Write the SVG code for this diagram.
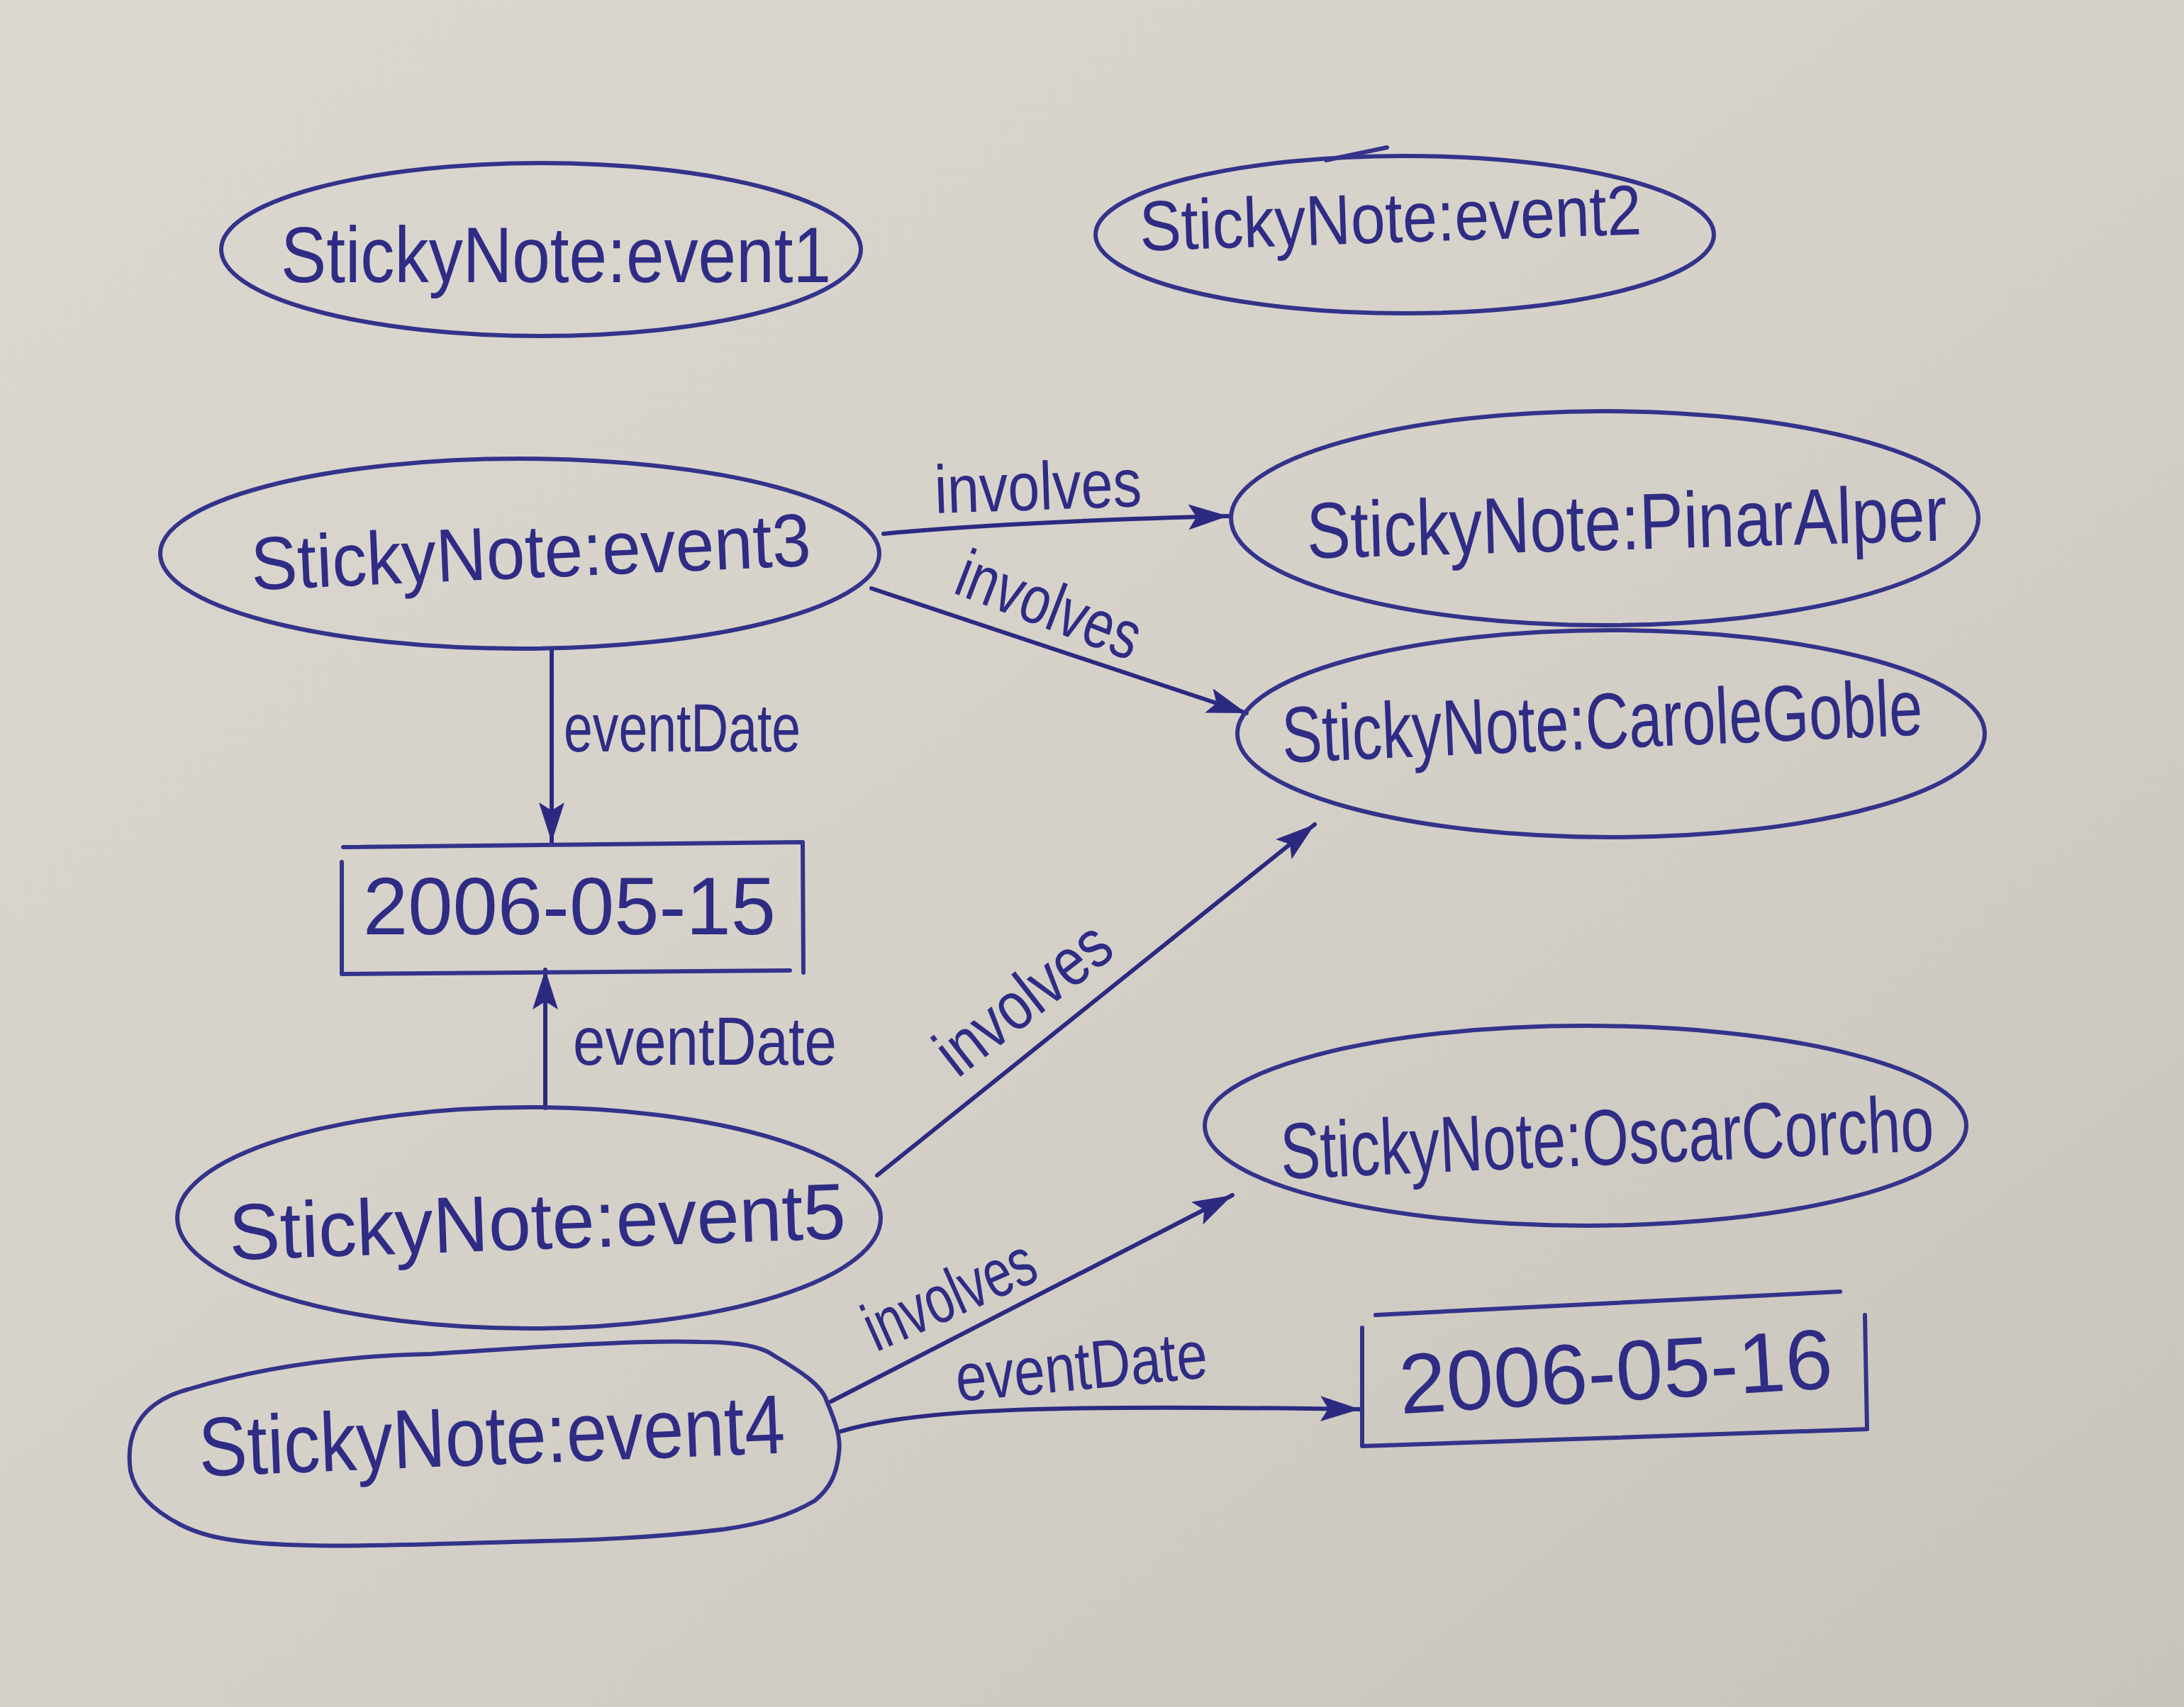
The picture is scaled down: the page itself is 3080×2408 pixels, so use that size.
<svg xmlns="http://www.w3.org/2000/svg" width="3080" height="2408" viewBox="0 0 3080 2408">
<defs>
<linearGradient id="paper" x1="0" y1="0" x2="1" y2="1">
<stop offset="0" stop-color="#dcd8d0"/>
<stop offset="0.5" stop-color="#d5d1c9"/>
<stop offset="1" stop-color="#c8c4bc"/>
</linearGradient>
<marker id="ah" viewBox="0 0 10 10" refX="10" refY="5" markerWidth="56" markerHeight="36" markerUnits="userSpaceOnUse" orient="auto" preserveAspectRatio="none">
<path d="M0,0 L10,5 L0,10 L2,5 z" fill="#2c2a80"/>
</marker>
<style>
.shape{fill:none;stroke:#34338a;stroke-width:6;stroke-linecap:round;stroke-linejoin:round}
.edge{fill:none;stroke:#2c2a80;stroke-width:6;stroke-linecap:round;marker-end:url(#ah)}
.t{font-family:"Liberation Sans","Noto Sans",sans-serif;fill:#2e2c84;text-anchor:middle}
.n{font-size:112px}
.l{font-size:96px}
.d{font-size:115px}
</style>
</defs>
<rect x="0" y="0" width="3080" height="2408" fill="url(#paper)"/>

<g id="connectors">
<path id="e3-pinar" class="edge" d="M1246,753 Q1420,736 1732,728"/>
<path id="e3-carole" class="edge" d="M1229,830 L1758,1006"/>
<path id="e3-date15" class="edge" d="M778,918 L778,1188"/>
<path id="e5-date15" class="edge" d="M769,1563 L769,1368"/>
<path id="e5-carole" class="edge" d="M1237,1658 L1854,1163"/>
<path id="e4-oscar" class="edge" d="M1172,1977 L1738,1686"/>
<path id="e4-date16" class="edge" d="M1183,2020 C1300,1985 1500,1982 1918,1988"/>
<text class="t l" x="1465" y="719" textLength="292" lengthAdjust="spacingAndGlyphs" transform="rotate(-2 1465 719)">involves</text>
<text class="t l" x="1468" y="884" textLength="270" lengthAdjust="spacingAndGlyphs" transform="rotate(21 1468 884)">involves</text>
<text class="t l" x="962" y="1060" textLength="334" lengthAdjust="spacingAndGlyphs">eventDate</text>
<text class="t l" x="994" y="1502" textLength="372" lengthAdjust="spacingAndGlyphs">eventDate</text>
<text class="t l" x="1463" y="1434" textLength="286" lengthAdjust="spacingAndGlyphs" transform="rotate(-38 1463 1434)">involves</text>
<text class="t l" x="1352" y="1856" textLength="255" lengthAdjust="spacingAndGlyphs" transform="rotate(-24 1352 1856)">involves</text>
<text class="t l" x="1528" y="1960" textLength="356" lengthAdjust="spacingAndGlyphs" transform="rotate(-5.5 1528 1960)">eventDate</text>
</g>

<g id="event1">
<ellipse class="shape" cx="763" cy="352" rx="451" ry="122"/>
<text class="t n" x="784" y="398" textLength="776" lengthAdjust="spacingAndGlyphs">StickyNote:event1</text>
</g>

<g id="event2">
<ellipse class="shape" cx="1981" cy="331" rx="436" ry="111"/>
<path class="shape" d="M1870,226 L1956,208"/>
<text class="t n" x="1962" y="342" textLength="708" lengthAdjust="spacingAndGlyphs" transform="rotate(-1.9 1962 342)" style="font-size:100px">StickyNote:event2</text>
</g>

<g id="event3">
<ellipse class="shape" cx="733" cy="781" rx="507" ry="134"/>
<text class="t n" x="750" y="815" textLength="790" lengthAdjust="spacingAndGlyphs" transform="rotate(-2.5 750 815)" style="font-size:106px">StickyNote:event3</text>
</g>

<g id="pinar">
<ellipse class="shape" cx="2263" cy="731" rx="527" ry="151"/>
<text class="t n" x="2295" y="775" textLength="903" lengthAdjust="spacingAndGlyphs" transform="rotate(-1.6 2295 775)">StickyNote:PinarAlper</text>
</g>

<g id="carole">
<ellipse class="shape" cx="2272" cy="1035" rx="527" ry="146"/>
<text class="t n" x="2261" y="1056" textLength="904" lengthAdjust="spacingAndGlyphs" transform="rotate(-2.5 2261 1056)">StickyNote:CaroleGoble</text>
</g>

<g id="date15">
<path class="shape" d="M482,1216 L482,1374 L1114,1369 M484,1195 L1132,1188 L1133,1372"/>
<text class="t d" x="803" y="1318" textLength="582" lengthAdjust="spacingAndGlyphs">2006-05-15</text>
</g>

<g id="event5">
<ellipse class="shape" cx="746" cy="1718" rx="496" ry="156"/>
<text class="t n" x="759" y="1762" textLength="870" lengthAdjust="spacingAndGlyphs" transform="rotate(-2 759 1762)">StickyNote:event5</text>
</g>

<g id="oscar">
<ellipse class="shape" cx="2236" cy="1588" rx="537" ry="141"/>
<text class="t n" x="2268" y="1643" textLength="922" lengthAdjust="spacingAndGlyphs" transform="rotate(-2.5 2268 1643)">StickyNote:OscarCorcho</text>
</g>

<g id="date16">
<path class="shape" d="M1940,1855 L2595,1822 M1921,1873 L1921,2040 L2633,2016 L2630,1855"/>
<text class="t d" x="2281" y="1976" textLength="612" lengthAdjust="spacingAndGlyphs" transform="rotate(-3.4 2281 1976)" style="font-size:120px">2006-05-16</text>
</g>

<g id="event4">
<path class="shape" d="M184,2075 C175,2010 210,1975 265,1960 C380,1925 500,1912 609,1910 C760,1900 900,1890 988,1893 C1040,1893 1075,1900 1091,1912 C1130,1935 1160,1955 1166,1977 C1180,2010 1186,2030 1183,2050 C1180,2080 1170,2100 1149,2117 C1110,2140 1070,2150 1023,2157 C920,2170 820,2173 724,2175 C620,2178 520,2182 437,2180 C340,2178 290,2170 253,2150 C215,2130 190,2105 184,2075 Z"/>
<text class="t n" x="695" y="2066" textLength="827" lengthAdjust="spacingAndGlyphs" transform="rotate(-2.3 695 2066)" style="font-size:118px">StickyNote:event4</text>
</g>
</svg>
